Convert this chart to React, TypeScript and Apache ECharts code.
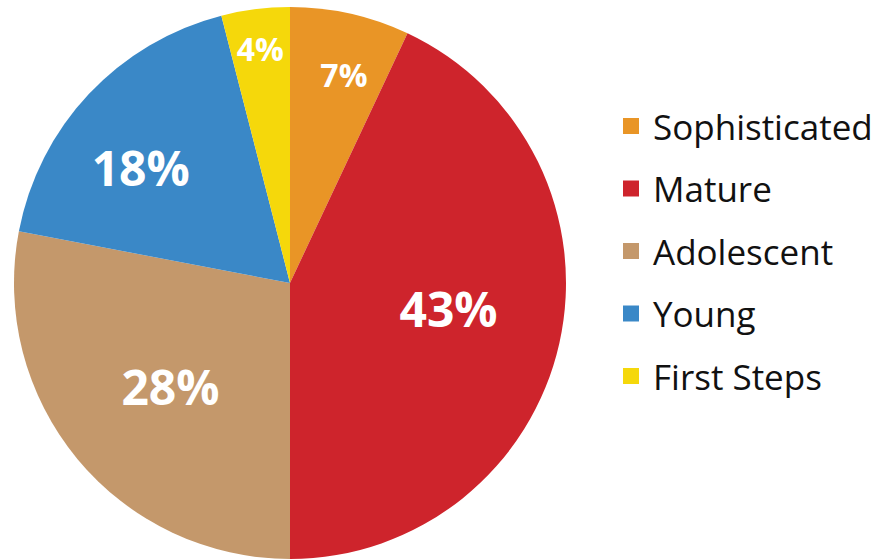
import React, { useEffect, useRef } from "react";
import * as echarts from "echarts";

const categories = ["Sophisticated", "Mature", "Adolescent", "Young", "First Steps"];
const values = [7, 43, 28, 18, 4];
const colors = ["#E99526", "#CE242C", "#C4986B", "#3A88C7", "#F5D80B"];
// label placement (fraction of radius, angular shift from mid-angle in degrees) and font sizes
const labelRadiusRatio = [0.78, 0.5815, 0.572, 0.684, 0.858];
const labelAngleShift = [1.9, -3.6, -1.2, -5.45, 0];
const labelFontSizes = [32, 48, 48, 48, 32];

const CX = 290;
const CY = 283;
const R = 276;

export default function App() {
  const ref = useRef<HTMLDivElement>(null);
  useEffect(() => {
    if (!ref.current) return;
    const chart = echarts.init(ref.current, undefined, { renderer: "svg" });
    const total = values.reduce((a, b) => a + b, 0);
    const midAngles: number[] = [];
    let acc = 0;
    values.forEach((v, i) => {
      midAngles.push(((acc + v / 2) / total) * Math.PI * 2 + (labelAngleShift[i] * Math.PI) / 180);
      acc += v;
    });
    chart.setOption({
      animation: false,
      backgroundColor: "#ffffff",
      legend: {
        orient: "vertical",
        left: 623,
        top: 106,
        padding: 0,
        itemWidth: 16,
        itemHeight: 16,
        itemGap: 22.5,
        icon: "rect",
        data: categories,
        textStyle: {
          fontFamily: "Open Sans",
          fontSize: 35,
          lineHeight: 40,
          color: "#111111",
          padding: [0, 0, 0, 9],
        },
      },
      series: [
        {
          type: "pie",
          center: [CX, CY],
          radius: [0, R],
          startAngle: 90,
          clockwise: true,
          avoidLabelOverlap: false,
          label: {
            show: true,
            position: "inside",
            formatter: "{c}%",
            color: "#ffffff",
            fontFamily: "Open Sans",
            fontWeight: "bold",
          },
          labelLine: { show: false },
          labelLayout: (params: any) => {
            const i = params.dataIndex;
            const a = midAngles[i];
            const r = labelRadiusRatio[i] * R;
            return {
              x: CX + r * Math.sin(a),
              y: CY - r * Math.cos(a),
              align: "center",
              verticalAlign: "middle",
            };
          },
          emphasis: { disabled: true },
          itemStyle: { borderWidth: 0 },
          data: categories.map((name, i) => ({
            name,
            value: values[i],
            itemStyle: { color: colors[i] },
            label: { fontSize: labelFontSizes[i] },
          })),
        },
      ],
    });
    return () => chart.dispose();
  }, []);
  return (
    <div
      ref={ref}
      style={{ position: "fixed", left: 0, top: 0, width: 881, height: 560 }}
    />
  );
}
